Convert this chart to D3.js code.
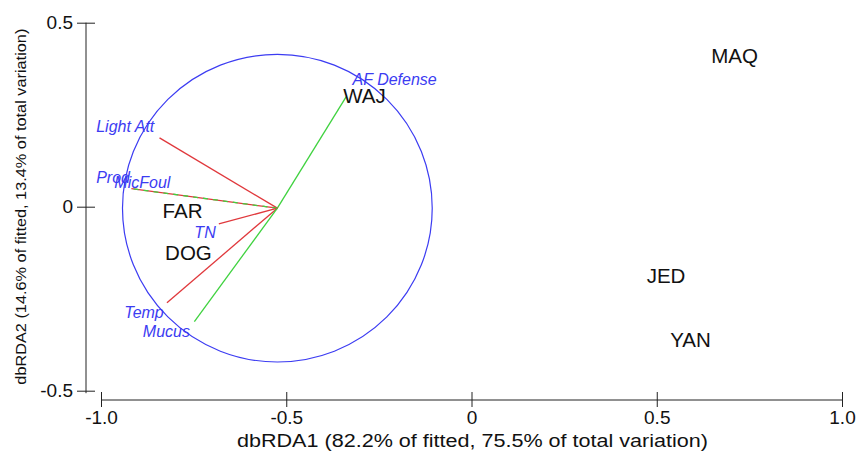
<!DOCTYPE html>
<html>
<head>
<meta charset="utf-8">
<script src="https://cdn.jsdelivr.net/npm/d3@7"></script>
<style>
  html, body { margin: 0; padding: 0; background: #fff; }
  svg { display: block; font-family: "Liberation Sans", Arial, sans-serif; }
</style>
</head>
<body>
<svg id="chart" width="859" height="458"></svg>
<script>
// ---- data ----
const siteNames = ["WAJ", "MAQ", "JED", "YAN", "FAR", "DOG"];
const siteX = [-0.289, 0.710, 0.525, 0.591, -0.780, -0.764];
const siteY = [0.301, 0.411, -0.187, -0.360, -0.012, -0.124];

const vectorNames = ["AF Defense", "Light Att", "Prod", "MicFoul", "TN", "Temp", "Mucus"];
const vectorX = [-0.338, -0.842, -0.918, -0.918, -0.682, -0.822, -0.748];
const vectorY = [0.299, 0.187, 0.049, 0.049, -0.047, -0.261, -0.312];
const vectorGroup = ["green", "red", "red", "green", "red", "red", "green"];

const circleCenter = [-0.524, -0.004];
const circleRadius = 0.418;

const xTickValues = [-1.0, -0.5, 0, 0.5, 1.0];
const xTickLabels = ["-1.0", "-0.5", "0", "0.5", "1.0"];
const yTickValues = [0.5, 0, -0.5];
const yTickLabels = ["0.5", "0", "-0.5"];

const xTitle = "dbRDA1 (82.2% of fitted, 75.5% of total variation)";
const yTitle = "dbRDA2 (14.6% of fitted, 13.4% of total variation)";

// ---- layout ----
const svg = d3.select("#chart");
const x = d3.scaleLinear().domain([-1, 1]).range([101, 842]);
const y = d3.scaleLinear().domain([-0.5, 0.5]).range([390.7, 22.7]);
const xAxisY = 400;
const yAxisX = 86;

const blue = "#3c3cf2";
const lineColor = { red: "#e0383c", green: "#3fd23f" };

// axes
const xAxis = d3.axisBottom(x)
  .tickValues(xTickValues)
  .tickFormat((d, i) => xTickLabels[i])
  .tickSize(8).tickPadding(3);
const gx = svg.append("g").attr("transform", `translate(0,${xAxisY})`).call(xAxis);
gx.select(".domain").attr("d", `M${x(-1)},0H${x(1)}`).attr("stroke", "#222");
gx.selectAll(".tick line").attr("y1", -8).attr("y2", 7).attr("stroke", "#222");
gx.selectAll(".tick text").attr("font-size", 19).attr("fill", "#111")
  .attr("font-family", "Liberation Sans, Arial, sans-serif");

const yAxis = d3.axisLeft(y)
  .tickValues(yTickValues)
  .tickFormat((d, i) => yTickLabels[i])
  .tickSize(9).tickPadding(4);
const gy = svg.append("g").attr("transform", `translate(${yAxisX},0)`).call(yAxis);
gy.select(".domain").attr("d", `M0,${y(0.5)}V${y(-0.5) + 2.5}`).attr("stroke", "#222");
gy.selectAll(".tick line").attr("x1", -9).attr("x2", 9).attr("stroke", "#222");
gy.selectAll(".tick text").attr("font-size", 19).attr("fill", "#111")
  .attr("font-family", "Liberation Sans, Arial, sans-serif");

// axis titles
svg.append("text")
  .attr("x", 472.5).attr("y", 447)
  .attr("text-anchor", "middle").attr("font-size", 17.5).attr("fill", "#111")
  .attr("textLength", 471).attr("lengthAdjust", "spacingAndGlyphs")
  .text(xTitle);
svg.append("text")
  .attr("transform", `translate(26,${(y(0.5) + y(-0.5)) / 2}) rotate(-90)`)
  .attr("text-anchor", "middle").attr("font-size", 15).attr("fill", "#111")
  .attr("textLength", 356).attr("lengthAdjust", "spacingAndGlyphs")
  .text(yTitle);

// circle
svg.append("ellipse")
  .attr("cx", x(circleCenter[0])).attr("cy", y(circleCenter[1]))
  .attr("rx", x(circleCenter[0] + circleRadius) - x(circleCenter[0]))
  .attr("ry", y(circleCenter[1]) - y(circleCenter[1] + circleRadius))
  .attr("fill", "none").attr("stroke", blue).attr("stroke-width", 1.2);

// vectors
const vectors = vectorNames.map((n, i) => ({ name: n, vx: vectorX[i], vy: vectorY[i], g: vectorGroup[i] }));
svg.append("g").selectAll("line").data(vectors).join("line")
  .attr("x1", x(circleCenter[0])).attr("y1", y(circleCenter[1]))
  .attr("x2", d => x(d.vx)).attr("y2", d => y(d.vy))
  .attr("stroke", d => lineColor[d.g]).attr("stroke-width", 1.3)
  .attr("stroke-dasharray", d => d.name === "MicFoul" ? "5,5" : null);

// vector labels
const vLabelPos = {
  "AF Defense": [-0.321, 0.331],
  "Light Att": [-1.013, 0.203],
  "Prod": [-1.013, 0.064],
  "MicFoul": [-0.964, 0.050],
  "TN": [-0.748, -0.086],
  "Temp": [-0.937, -0.302],
  "Mucus": [-0.887, -0.353]
};
svg.append("g").selectAll("text").data(vectors).join("text")
  .attr("x", d => x(vLabelPos[d.name][0]))
  .attr("y", d => y(vLabelPos[d.name][1]))
  .attr("font-size", 16).attr("font-style", "italic").attr("fill", blue)
  .text(d => d.name);

// site labels
const sites = siteNames.map((n, i) => ({ name: n, sx: siteX[i], sy: siteY[i] }));
svg.append("g").selectAll("text").data(sites).join("text")
  .attr("x", d => x(d.sx)).attr("y", d => y(d.sy))
  .attr("dy", "0.36em")
  .attr("text-anchor", "middle").attr("font-size", 20.5).attr("fill", "#111")
  .text(d => d.name);
</script>
</body>
</html>
